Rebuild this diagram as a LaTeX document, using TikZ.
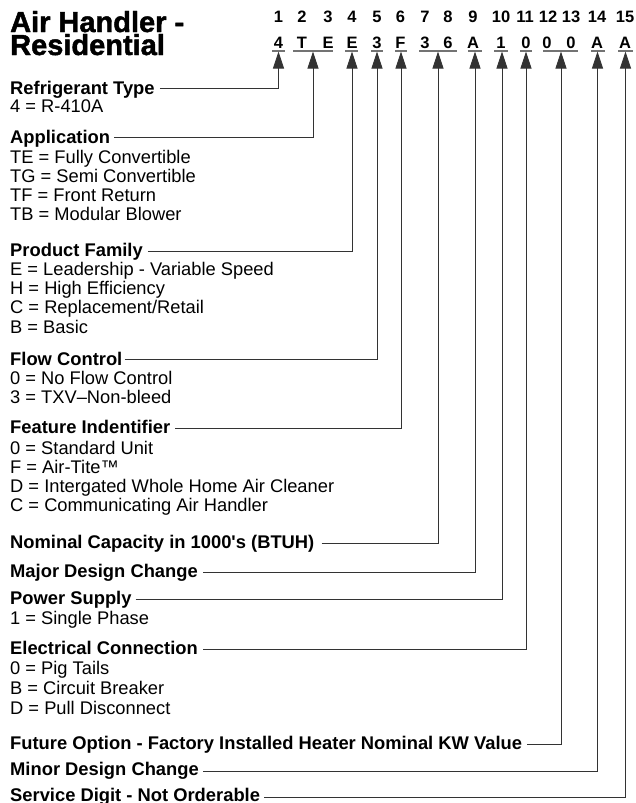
\documentclass[tikz,border=0pt]{standalone}
\usepackage{fontspec}
\setmainfont{Liberation Sans}
\newfontfamily\heavyfont[FakeBold=1.6]{Liberation Sans Bold}
\usetikzlibrary{arrows.meta,calc}
\tikzset{
  lab/.style={anchor=base west, inner sep=0pt, font=\fontsize{18.35}{19}\selectfont\bfseries},
  itm/.style={anchor=base west, inner sep=0pt, font=\fontsize{18.3}{19}\selectfont},
  hdr/.style={anchor=base, inner sep=0pt, font=\fontsize{16.5}{17}\selectfont\bfseries},
  ttl/.style={anchor=base west, inner sep=0pt, font=\fontsize{29}{23}\selectfont\heavyfont},
  uline/.style={draw=black!55, line width=1.3pt},
  conn/.style={draw=black!80, line width=0.9pt, -{Triangle[width=11pt,length=17pt]}},
}
\begin{document}
\begin{tikzpicture}[x=1pt,y=-1pt]
\useasboundingbox[fill=white] (0,0) rectangle (636,803);

% title
\node[ttl] (t1l) at (10,32) {Air Handler -};
\node[ttl] (t2l) at (10,55) {Residential};

% header digits
\foreach \n/\x in {1/278.5,2/302,3/328,4/352,5/377,6/400.5,7/425,8/448,9/473,10/501,11/525,12/548,13/571,14/597,15/625}
  \node[hdr] (d\n) at (\x,23) {\n};
% header code letters
\foreach \n/\x/\c in {1/278.5/4,2/302/T,3/328/E,4/352/E,5/377/3,6/400.5/F,7/425/3,8/448/6,9/473/A,10/501/1,11/526/0,12/547/0,13/571/0,14/597/A,15/625/A}
  \node[hdr] (c\n) at (\x,48) {\c};

% underlines
\foreach \a/\b in {272/285,293/333,345/358,371/383,395/407,419/457,468/482,494/508,520/532,543/578,591/605,618/633}
  \draw[uline] (\a,51) -- (\b,51);

% arrow tips
\foreach \n/\x in {1/278.5,2/313,3/352,4/377,5/401,6/438,7/475,8/502,9/526,10/561,11/597.5,12/625.5}
  \coordinate (tip\n) at (\x,51.5);

% labels
\node[lab] (rt) at (10,94) {Refrigerant Type};
\node[itm] (rt1) at (10,112) {4 = R-410A};

\node[lab] (ap) at (10,143) {Application};
\node[itm] (ap1) at (10,163) {TE = Fully Convertible};
\node[itm] (ap2) at (10,182.3) {TG = Semi Convertible};
\node[itm] (ap3) at (10,201.6) {TF = Front Return};
\node[itm] (ap4) at (10,220.9) {TB = Modular Blower};

\node[lab] (pf) at (10,256) {Product Family};
\node[itm] (pf1) at (10,275.2) {E = Leadership - Variable Speed};
\node[itm] (pf2) at (10,294.5) {H = High Efficiency};
\node[itm] (pf3) at (10,313.8) {C = Replacement/Retail};
\node[itm] (pf4) at (10,333.1) {B = Basic};

\node[lab] (fc) at (10,365) {Flow Control};
\node[itm] (fc1) at (10,384) {0 = No Flow Control};
\node[itm] (fc2) at (10,403) {3 = TXV–Non-bleed};

\node[lab] (fi) at (10,433.5) {Feature Indentifier};
\node[itm] (fi1) at (10,454) {0 = Standard Unit};
\node[itm] (fi2) at (10,473.3) {F = Air-Tite™};
\node[itm] (fi3) at (10,492.6) {D = Intergated Whole Home Air Cleaner};
\node[itm] (fi4) at (10,511.9) {C = Communicating Air Handler};

\node[lab] (nc) at (10,548) {Nominal Capacity in 1000\textquotesingle s (BTUH)};
\node[lab] (mj) at (10,577) {Major Design Change};

\node[lab] (ps) at (10,604) {Power Supply};
\node[itm] (ps1) at (10,624.5) {1 = Single Phase};

\node[lab] (ec) at (10,654) {Electrical Connection};
\node[itm] (ec1) at (10,674.5) {0 = Pig Tails};
\node[itm] (ec2) at (10,694.5) {B = Circuit Breaker};
\node[itm] (ec3) at (10,714) {D = Pull Disconnect};

\node[lab] (fo) at (10,749) {Future Option - Factory Installed Heater Nominal KW Value};
\node[lab] (mn) at (10,775) {Minor Design Change};
\node[lab] (sd) at (10,801) {Service Digit - Not Orderable};

% connectors
\draw[conn] ($(rt.base east)+(5,-6)$) -| (tip1);
\draw[conn] ($(ap.base east)+(4,-6)$) -| (tip2);
\draw[conn] ($(pf.base east)+(5,-5)$) -| (tip3);
\draw[conn] ($(fc.base east)+(2,-6)$) -| (tip4);
\draw[conn] ($(fi.base east)+(5,-5)$) -| (tip5);
\draw[conn] ($(nc.base east)+(7,-5)$) -| (tip6);
\draw[conn] ($(mj.base east)+(5,-5)$) -| (tip7);
\draw[conn] ($(ps.base east)+(4,-5)$) -| (tip8);
\draw[conn] ($(ec.base east)+(5,-5)$) -| (tip9);
\draw[conn] ($(fo.base east)+(5,-4.5)$) -| (tip10);
\draw[conn] ($(mn.base east)+(4,-4)$) -| (tip11);
\draw[conn] ($(sd.base east)+(4,-4)$) -| (tip12);
\end{tikzpicture}
\end{document}
